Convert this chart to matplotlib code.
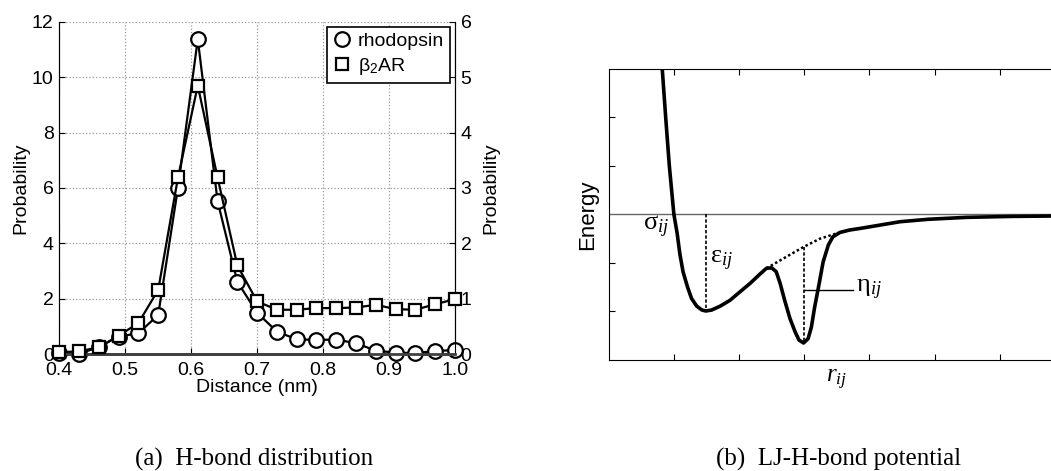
"""Two-panel figure: H-bond distance distribution and an LJ-H-bond potential sketch."""

import matplotlib
matplotlib.use("Agg")
import matplotlib.pyplot as plt

plt.rcParams["font.family"] = ["Liberation Sans", "DejaVu Sans"]
plt.rcParams["mathtext.fontset"] = "custom"
plt.rcParams["mathtext.rm"] = "Liberation Sans"
plt.rcParams["mathtext.it"] = "Liberation Serif:italic"

# --- (a) H-bond distribution ---------------------------------------------
distance = [0.40, 0.43, 0.46, 0.49, 0.52, 0.55, 0.58, 0.61, 0.64, 0.67, 0.70,
            0.73, 0.76, 0.79, 0.82, 0.85, 0.88, 0.91, 0.94, 0.97, 1.00]
rhodopsin = [0.03, 0.0, 0.26, 0.63, 0.75, 1.41, 6.01, 11.38, 5.53, 2.61, 1.49,
             0.81, 0.53, 0.51, 0.52, 0.39, 0.12, 0.05, 0.03, 0.11, 0.14]
b2ar = [0.03, 0.05, 0.12, 0.33, 0.56, 1.16, 3.19, 4.85, 3.19, 1.60, 0.95,
        0.80, 0.80, 0.83, 0.83, 0.84, 0.89, 0.81, 0.80, 0.90, 0.99]
x_ticks = [0.4, 0.5, 0.6, 0.7, 0.8, 0.9, 1.0]
x_ticklabels = ["0.4", "0.5", "0.6", "0.7", "0.8", "0.9", "1.0"]
left_yticks = [0, 2, 4, 6, 8, 10, 12]
right_yticks = [0, 1, 2, 3, 4, 5, 6]

# --- (b) LJ-H-bond potential (axis units) ---------------------------------
r_curve = [0.80, 0.874, 0.93, 1.0, 1.05, 1.09, 1.14, 1.21, 1.27,
           1.35, 1.43, 1.49, 1.58, 1.71, 1.86, 2.01, 2.17, 2.32, 2.42, 2.50,
           2.57, 2.63, 2.70, 2.78, 2.86, 2.92, 2.99, 3.06, 3.11, 3.16, 3.23,
           3.29, 3.37, 3.44, 3.55, 3.70, 3.85, 4.16, 4.47, 4.90, 5.49, 6.20,
           7.00]
e_curve = [3.4, 2.0, 1.0, 0.0, -0.39, -0.80, -1.18, -1.50, -1.73,
           -1.89, -1.97, -1.99, -1.97, -1.89, -1.77, -1.60, -1.42, -1.23, -1.11,
           -1.10, -1.18, -1.42, -1.77, -2.14, -2.42, -2.59, -2.65, -2.56, -2.32,
           -1.91, -1.42, -0.98, -0.63, -0.46, -0.37, -0.32, -0.29, -0.22, -0.15,
           -0.10, -0.06, -0.04, -0.03]
r_envelope = [2.42, 2.73, 2.99, 3.24, 3.55]
e_envelope = [-1.11, -0.87, -0.67, -0.50, -0.37]
eps_r, eps_depth = 1.49, -1.99
eta_r, eta_top, eta_depth = 3.0, -0.67, -2.65
eta_leader_e, eta_leader_end = -1.55, 3.75

fig = plt.figure(figsize=(10.51, 4.71), dpi=100)

# left panel
ax = fig.add_axes([0.0564, 0.2484, 0.3765, 0.7049])
ax2 = ax.twinx()
ax.plot(distance, rhodopsin, "-o", color="black", lw=1.6, ms=10.5,
        mfc="white", mec="black", mew=1.6, clip_on=False, zorder=3)
ax2.plot(distance, b2ar, "-s", color="black", lw=1.6, ms=8.5,
         mfc="white", mec="black", mew=1.6, clip_on=False, zorder=3)
leg_circle, = ax2.plot([], [], "o", color="black", ms=10.5, mfc="white",
                       mew=1.6)
leg_square, = ax2.plot([], [], "s", color="black", ms=8.5, mfc="white",
                       mew=1.6)

ax.set_xlim(0.4, 1.0)
ax.set_ylim(0, 12)
ax2.set_ylim(0, 6)
ax.set_xticks(x_ticks, x_ticklabels)
ax.set_yticks(left_yticks)
ax2.set_yticks(right_yticks)
ax.grid(True, linestyle=":", color="0.6", lw=0.9)
ax.set_axisbelow(True)
for a in (ax, ax2):
    a.tick_params(direction="in", labelsize=14, length=4, pad=4)
    a.spines["top"].set_visible(False)
    a.spines["bottom"].set_linewidth(2)
    a.spines["bottom"].set_color("0.25")
ax.tick_params(axis="x", pad=6)
ax.set_xlabel("Distance (nm)", fontsize=14, labelpad=0)
ax.set_ylabel("Probability", fontsize=14, labelpad=2)
ax2.set_ylabel("Probability", fontsize=14, labelpad=8)
leg = ax2.legend([leg_circle, leg_square], ["rhodopsin", "β$_2$AR"],
                 loc="upper right", fontsize=14, frameon=True, fancybox=False,
                 edgecolor="black", framealpha=1, handletextpad=0.3,
                 handlelength=1.0, labelspacing=0.3, borderpad=0.3,
                 borderaxespad=0.25)
leg.get_frame().set_linewidth(1.2)

# right panel
bx = fig.add_axes([0.5792, 0.2357, 0.434, 0.618])
bx.axhline(0, color="0.4", lw=1.0, zorder=1)
bx.plot(r_curve, e_curve, color="black", lw=2.6, solid_capstyle="round",
        solid_joinstyle="round", zorder=3)
bx.plot(r_envelope, e_envelope, color="black", lw=1.8, linestyle=(0, (1, 1)),
        zorder=2)
bx.plot([eps_r, eps_r], [0, eps_depth], color="black", lw=1.2,
        linestyle=(0, (2, 1.2)), zorder=2)
bx.plot([eta_r, eta_r], [eta_top, eta_depth], color="black", lw=1.2,
        linestyle=(0, (2, 1.2)), zorder=2)
bx.plot([eta_r, eta_leader_end], [eta_leader_e, eta_leader_e],
        color="black", lw=1.0, zorder=2)
serif = ["Liberation Serif", "DejaVu Serif"]
bx.text(0.93, -0.25, r"σ$_{ij}$", family=serif, fontsize=19,
        ha="right", va="center")
bx.text(1.56, -0.95, r"ε$_{ij}$", family=serif, fontsize=19,
        ha="left", va="center")
bx.text(3.80, -1.55, r"η$_{ij}$", family=serif, fontsize=19,
        ha="left", va="center")
bx.set_xlim(0, 7)
bx.set_ylim(-3, 3)
bx.set_xticks(range(1, 7))
bx.set_yticks([-2, -1, 1, 2])
bx.tick_params(direction="in", top=True, right=True, labelbottom=False,
               labelleft=False, length=4)
bx.set_xlabel(r"$r_{ij}$", fontsize=18, labelpad=6)
bx.set_ylabel("Energy", fontsize=16, labelpad=8)

# captions
fig.text(254 / 1051, 1 - 459 / 471, "(a)  H-bond distribution",
         family=serif, fontsize=18, ha="center", va="center")
fig.text(839 / 1051, 1 - 459 / 471, "(b)  LJ-H-bond potential",
         family=serif, fontsize=18, ha="center", va="center")

fig.savefig("out.png", dpi=100)
